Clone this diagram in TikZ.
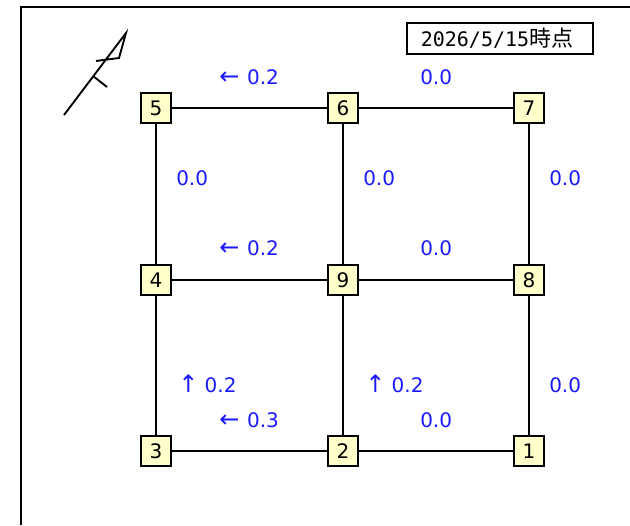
\documentclass[tikz,border=0pt]{standalone}
\usepackage{fontspec}
\setmainfont{DejaVu Sans}
\newfontfamily\monodigits{DejaVu Sans Mono}
\newfontfamily\cjk{Noto Sans CJK JP}
\definecolor{nodefill}{RGB}{255,255,204}
\definecolor{flow}{RGB}{26,26,255}
\newcommand{\bigarrow}[1]{{\fontsize{18pt}{16pt}\selectfont #1}}
\tikzset{
  x=0.75pt,y=-0.75pt,
  station/.style={draw=black,line width=1pt,fill=nodefill,minimum size=22.5pt,inner sep=0pt,font=\fontsize{15pt}{16pt}\selectfont},
  wire/.style={draw=black,line width=1.5pt},
  flowlabel/.style={text=flow,font=\fontsize{15pt}{16pt}\selectfont,inner sep=0pt,anchor=west},
  stroke/.style={draw=black,line width=1.4pt},
  frameline/.style={draw=black,line width=1.1pt}
}
\begin{document}
\begin{tikzpicture}
\useasboundingbox (0,0) rectangle (630,525);
\draw[frameline] (21,525) -- (21,7) -- (630,7);
\node[station] (n5) at (156,108) {5};
\node[station] (n6) at (343,108) {6};
\node[station] (n7) at (529,108) {7};
\node[station] (n4) at (156,280) {4};
\node[station] (n9) at (343,280) {9};
\node[station] (n8) at (529,280) {8};
\node[station] (n3) at (156,451) {3};
\node[station] (n2) at (343,451) {2};
\node[station] (n1) at (529,451) {1};
\draw[wire] (n5)--(n6); \draw[wire] (n6)--(n7);
\draw[wire] (n4)--(n9); \draw[wire] (n9)--(n8);
\draw[wire] (n3)--(n2); \draw[wire] (n2)--(n1);
\draw[wire] (n5)--(n4); \draw[wire] (n4)--(n3);
\draw[wire] (n6)--(n9); \draw[wire] (n9)--(n2);
\draw[wire] (n7)--(n8); \draw[wire] (n8)--(n1);
\node[flowlabel] (a) at (219,77) {\bigarrow{←}\hspace{1pt} 0.2};
\node[flowlabel] (b) at (420,77) {0.0};
\node[flowlabel] (c) at (176,178) {0.0};
\node[flowlabel] (d) at (363,178) {0.0};
\node[flowlabel] (e) at (549,178) {0.0};
\node[flowlabel] (f) at (219,248) {\bigarrow{←}\hspace{1pt} 0.2};
\node[flowlabel] (g) at (420,248) {0.0};
\node[flowlabel] (h) at (178,384) {\bigarrow{↑} 0.2};
\node[flowlabel] (i) at (365,384) {\bigarrow{↑} 0.2};
\node[flowlabel] (j) at (549,385) {0.0};
\node[flowlabel] (k) at (219,420) {\bigarrow{←}\hspace{1pt} 0.3};
\node[flowlabel] (l) at (420,420) {0.0};
\node[draw=black,line width=1.1pt,minimum width=139.5pt,minimum height=23pt,inner sep=0pt] (date) at (500,38.5) {\hspace*{-4.5pt}\fontsize{15pt}{16pt}\monodigits 2026/5/15\fontsize{16.5pt}{17pt}\cjk 時点};
\coordinate (wa) at (64,115);
\coordinate (wb) at (126,33);
\coordinate (wc) at (119,58);
\coordinate (wd) at (96,61);
\coordinate (we) at (93,76);
\coordinate (wf) at (107,87);
\draw[stroke] (wa)--(wb)--(wc)--(wd);
\draw[stroke] (we)--(wf);
\end{tikzpicture}
\end{document}
